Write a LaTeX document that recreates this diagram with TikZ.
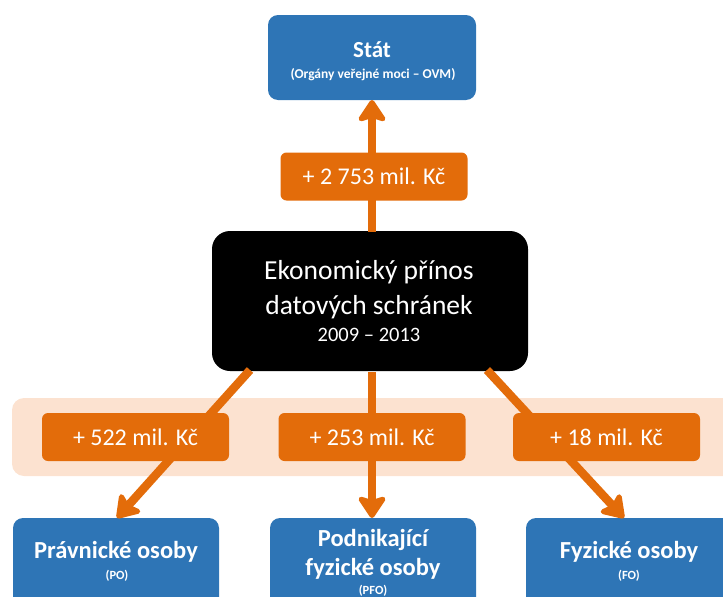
\documentclass[tikz,border=0pt]{standalone}
\usepackage{fontspec}
\setmainfont{Carlito}
\usetikzlibrary{arrows.meta}
\definecolor{myblue}{RGB}{46,117,182}
\definecolor{myorange}{RGB}{227,108,10}
\definecolor{mypeach}{RGB}{252,226,208}
\tikzset{
  bluebox/.style={fill=myblue, rounded corners=10pt, text=white, align=center, inner sep=0pt, font=\bfseries},
  orangebox/.style={fill=myorange, rounded corners=6pt, text=white, align=center, inner sep=0pt, minimum width=187pt, minimum height=48pt, font=\fontsize{24}{28}\selectfont},
  flow/.style={draw=myorange, line width=8.5pt, -{Stealth[length=25pt,width=33pt,inset=5pt,round]}},
}
\begin{document}
\begin{tikzpicture}[x=1pt,y=-1pt]
\useasboundingbox (0,0) rectangle (723,597);
% band
\fill[mypeach, rounded corners=12pt] (12,398) rectangle (740,476);
% nodes
\node[bluebox, minimum width=208pt, minimum height=85pt] (stat) at (372,57.5) {};
\node[text=white, font=\bfseries\fontsize{23}{26}\selectfont] (statt) at (372,50) {Stát};
\node[text=white, font=\bfseries\fontsize{13.5}{15}\selectfont] (stats) at (373,75) {(Orgány veřejné moci – OVM)};
\node[fill=black, rounded corners=18pt, minimum width=316pt, minimum height=140pt, inner sep=0pt] (eko) at (370,301) {};
\node[text=white, align=center, font=\fontsize{27.5}{35}\selectfont] (ekot) at (369,290) {Ekonomický přínos\\datových schránek};
\node[text=white, font=\fontsize{20.5}{23}\selectfont] (ekoy) at (369,335) {2009 – 2013};
% bottom boxes
\node[bluebox, minimum width=206pt, minimum height=100pt] (po) at (116,568) {};
\node[text=white, font=\bfseries\fontsize{24.5}{28}\selectfont] (pot) at (116,552) {Právnické osoby};
\node[text=white, font=\bfseries\fontsize{12.5}{14}\selectfont] (pos) at (117,576) {(PO)};
\node[bluebox, minimum width=206pt, minimum height=100pt] (pfo) at (373,568) {};
\node[text=white, align=center, font=\bfseries\fontsize{24.5}{29}\selectfont] (pfot) at (373,554) {Podnikající\\fyzické osoby};
\node[text=white, font=\bfseries\fontsize{12.5}{14}\selectfont] (pfos) at (373,591) {(PFO)};
\node[bluebox, minimum width=206pt, minimum height=100pt] (fo) at (629,568) {};
\node[text=white, font=\bfseries\fontsize{24.5}{28}\selectfont] (fot) at (629,552) {Fyzické osoby};
\node[text=white, font=\bfseries\fontsize{12.5}{14}\selectfont] (fos) at (629,576) {(FO)};
% arrow anchors
\coordinate (a0) at (372,232);
\coordinate (a1) at (250,370);
\coordinate (a2) at (372,372);
\coordinate (a3) at (487,370);
\coordinate (t0) at (372,100);
\coordinate (t1) at (117,518);
\coordinate (t2) at (372,518);
\coordinate (t3) at (624,518);
\draw[flow] (a0) -- (t0);
\draw[flow] (a1) -- (t1);
\draw[flow] (a2) -- (t2);
\draw[flow] (a3) -- (t3);
% labels
\node[orangebox] (l0) at (374,176.5) {+ 2 753 mil. Kč};
\node[orangebox] (l1) at (135.5,437) {+ 522 mil. Kč};
\node[orangebox] (l2) at (372,437) {+ 253 mil. Kč};
\node[orangebox] (l3) at (606.5,437) {+ 18 mil. Kč};
\end{tikzpicture}
\end{document}
